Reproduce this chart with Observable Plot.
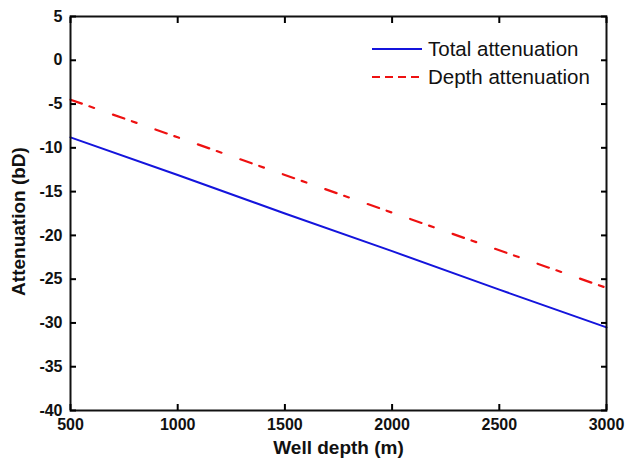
<!DOCTYPE html>
<html>
<head>
<meta charset="utf-8">
<script src="https://cdn.jsdelivr.net/npm/d3@7"></script>
<script src="https://cdn.jsdelivr.net/npm/@observablehq/plot@0.6"></script>
<style>
  html, body { margin: 0; padding: 0; background: #fff; }
  #wrap { position: relative; width: 626px; height: 465px; font-family: "Liberation Sans", Arial, sans-serif; }
  #legend { position: absolute; left: 372px; top: 35px; font-size: 20.5px; color: #111; }
  .row { display: flex; align-items: center; height: 28px; }
  .row svg { margin-right: 6px; }
</style>
</head>
<body>
<div id="wrap"></div>
<script>
const depths = [500, 1000, 1500, 2000, 2500, 3000];
const totalAttenuation = [-8.8, -13.1, -17.5, -21.8, -26.2, -30.5];
const depthAttenuation = [-4.5, -8.8, -13.1, -17.4, -21.7, -26.0];
const seriesNames = ["Total attenuation", "Depth attenuation"];
const xTicks = [500, 1000, 1500, 2000, 2500, 3000];
const yTicks = [5, 0, -5, -10, -15, -20, -25, -30, -35, -40];

const total = depths.map((d, i) => ({depth: d, value: totalAttenuation[i]}));
const depthA = depths.map((d, i) => ({depth: d, value: depthAttenuation[i]}));

const tickFont = {fontSize: 16, fontWeight: "bold", fill: "#111"};
const fmt = d => String(d);
const none = () => "";

const chart = Plot.plot({
  width: 626,
  height: 465,
  marginLeft: 70,
  marginRight: 20,
  marginTop: 16,
  marginBottom: 55,
  style: {fontFamily: "'Liberation Sans', Arial, sans-serif", background: "#fff"},
  x: {domain: [500, 3000]},
  y: {domain: [-40, 5]},
  marks: [
    Plot.line(total, {x: "depth", y: "value", stroke: "#1414dc", strokeWidth: 2}),
    Plot.line(depthA, {x: "depth", y: "value", stroke: "#ee1111", strokeWidth: 2.2, strokeDasharray: "12,8,5,20"}),
    Plot.frame({stroke: "#111", strokeWidth: 2}),
    Plot.axisX({anchor: "bottom", ticks: xTicks, tickSize: -6, tickPadding: 14, tickFormat: fmt, strokeWidth: 2, ...tickFont, label: null}),
    Plot.axisX({anchor: "top", ticks: xTicks, tickSize: -6, tickFormat: none, strokeWidth: 2, label: null}),
    Plot.axisY({anchor: "left", ticks: yTicks, tickSize: -6, tickPadding: 14, tickFormat: fmt, strokeWidth: 2, ...tickFont, label: null}),
    Plot.axisY({anchor: "right", ticks: yTicks, tickSize: -6, tickFormat: none, strokeWidth: 2, label: null}),
    Plot.text(["Well depth (m)"], {frameAnchor: "bottom", dy: 43, fontSize: 19, fontWeight: "bold", fill: "#111"}),
    Plot.text(["Attenuation (bD)"], {frameAnchor: "left", textAnchor: "middle", dx: -52, dy: 8, rotate: -90, fontSize: 19, fontWeight: "bold", fill: "#111"})
  ]
});

const wrap = document.getElementById("wrap");
wrap.appendChild(chart);

const legend = document.createElement("div");
legend.id = "legend";
const styles = [
  {stroke: "#1414dc", dash: null},
  {stroke: "#ee1111", dash: "8,5"}
];
seriesNames.forEach((name, i) => {
  const row = document.createElement("div");
  row.className = "row";
  const s = styles[i];
  row.innerHTML = `<svg width="50" height="10"><line x1="0" y1="5" x2="50" y2="5" stroke="${s.stroke}" stroke-width="2" ${s.dash ? `stroke-dasharray="${s.dash}"` : ""}/></svg><span>${name}</span>`;
  legend.appendChild(row);
});
wrap.appendChild(legend);
</script>
</body>
</html>
